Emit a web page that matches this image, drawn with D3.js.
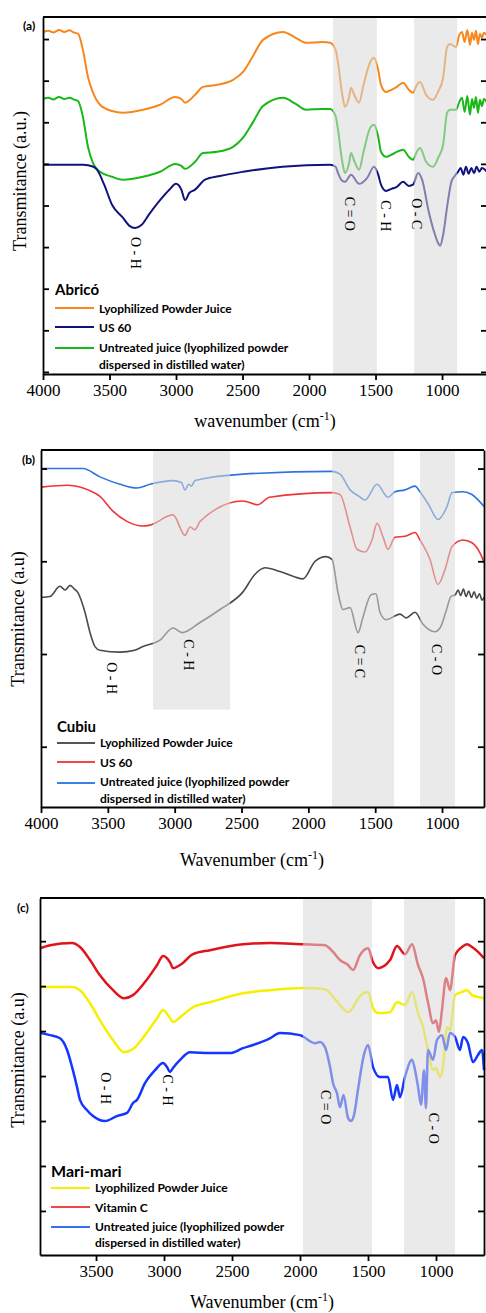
<!DOCTYPE html>
<html>
<head>
<meta charset="utf-8">
<script src="https://cdn.jsdelivr.net/npm/d3@7"></script>
<style>
  body { margin: 0; background: #fff; }
  svg { display: block; }
</style>
</head>
<body>
<svg id="chart" width="486" height="1313"></svg>
<script>
// ---- Data (wavenumber cm-1, transmittance a.u.) ----

// (a) Abricó
const abrico_powder = [[4000,8.17],[3960,8.20],[3920,8.16],[3880,8.22],[3840,8.17],[3800,8.21],[3770,8.16],[3737,8.13],[3700,7.74],[3662,7.09],[3624,6.71],[3571,6.42],[3481,6.27],[3398,6.23],[3248,6.30],[3120,6.42],[3007,6.61],[2960,6.56],[2932,6.47],[2857,6.66],[2797,6.85],[2692,6.90],[2571,7.02],[2496,7.21],[2420,7.60],[2346,7.98],[2195,8.17],[2100,8.03],[2022,7.91],[1900,7.93],[1842,7.91],[1800,7.74],[1782,7.43],[1750,6.66],[1729,6.37],[1700,6.59],[1684,6.83],[1660,6.66],[1624,6.47],[1590,6.90],[1540,7.45],[1511,7.55],[1480,7.26],[1459,6.90],[1421,6.73],[1380,6.78],[1340,6.85],[1293,6.95],[1250,6.78],[1218,6.71],[1190,6.90],[1165,6.97],[1120,6.66],[1068,6.54],[1030,6.73],[992,7.07],[962,7.81],[940,7.88],[895,7.81],[870,8.10],[850,8.17],[830,7.93],[810,8.22],[790,7.86],[775,8.15],[760,7.98],[745,8.20],[730,7.88],[715,8.13],[700,8.03],[685,8.15],[662,8.08]];
const abrico_us60 = [[4000,4.98],[3800,4.98],[3700,4.98],[3620,4.93],[3594,4.86],[3540,4.50],[3480,4.01],[3398,3.70],[3350,3.51],[3308,3.46],[3260,3.53],[3200,3.80],[3120,4.13],[3050,4.38],[3000,4.52],[2960,4.38],[2932,4.13],[2900,4.30],[2857,4.38],[2782,4.62],[2669,4.71],[2496,4.81],[2200,4.93],[1842,4.98],[1800,4.93],[1782,4.78],[1750,4.59],[1729,4.57],[1684,4.74],[1624,4.52],[1564,4.66],[1511,4.93],[1480,4.74],[1459,4.50],[1421,4.35],[1380,4.40],[1340,4.45],[1293,4.57],[1250,4.47],[1218,4.50],[1180,4.78],[1150,4.62],[1100,3.85],[1060,3.37],[1030,3.10],[1015,3.03],[992,3.29],[960,4.01],[930,4.57],[905,4.71],[880,4.81],[860,4.90],[840,4.74],[820,4.93],[800,4.76],[780,4.90],[760,4.78],[740,4.93],[720,4.81],[700,4.90],[662,4.81]];
const abrico_untreated = [[4000,6.56],[3960,6.59],[3920,6.55],[3880,6.61],[3840,6.56],[3800,6.59],[3770,6.55],[3737,6.51],[3700,6.13],[3662,5.41],[3624,5.02],[3571,4.81],[3481,4.69],[3398,4.62],[3248,4.69],[3120,4.81],[3007,5.00],[2960,4.95],[2932,4.88],[2857,5.05],[2797,5.26],[2692,5.29],[2571,5.41],[2496,5.63],[2420,6.01],[2346,6.39],[2195,6.59],[2100,6.44],[2022,6.30],[1900,6.32],[1842,6.32],[1800,6.15],[1782,5.82],[1750,5.05],[1729,4.78],[1700,5.00],[1684,5.26],[1660,5.07],[1624,4.86],[1590,5.29],[1540,5.87],[1511,5.94],[1480,5.65],[1459,5.29],[1421,5.17],[1380,5.22],[1340,5.29],[1293,5.34],[1250,5.17],[1218,5.10],[1190,5.29],[1165,5.38],[1120,5.05],[1068,4.93],[1030,5.14],[992,5.46],[962,6.23],[940,6.30],[895,6.30],[870,6.49],[850,6.59],[830,6.25],[810,6.63],[790,6.18],[775,6.56],[760,6.35],[745,6.61],[730,6.23],[715,6.54],[700,6.39],[685,6.56],[662,6.47]];

// (b) Cubiu
const cubiu_powder = [[4000,2.61],[3933,2.62],[3858,2.73],[3820,2.69],[3783,2.74],[3750,2.70],[3723,2.66],[3671,2.45],[3633,2.23],[3596,2.08],[3559,2.04],[3409,2.02],[3300,2.04],[3237,2.08],[3110,2.15],[3012,2.28],[2945,2.23],[2810,2.34],[2661,2.48],[2489,2.67],[2399,2.86],[2324,2.93],[2212,2.89],[2100,2.83],[2040,2.81],[1950,3.00],[1868,3.05],[1823,3.02],[1778,2.66],[1741,2.48],[1688,2.50],[1628,2.23],[1591,2.40],[1531,2.64],[1494,2.65],[1464,2.45],[1419,2.37],[1314,2.43],[1269,2.39],[1202,2.45],[1142,2.32],[1053,2.24],[1015,2.28],[970,2.46],[933,2.62],[900,2.64],[880,2.69],[860,2.63],[840,2.70],[820,2.62],[800,2.68],[780,2.61],[760,2.67],[740,2.60],[720,2.65],[700,2.58],[686,2.61]];
const cubiu_us60 = [[4000,3.80],[3800,3.82],[3686,3.79],[3648,3.77],[3559,3.70],[3462,3.54],[3357,3.43],[3237,3.38],[3185,3.39],[3012,3.50],[2923,3.28],[2885,3.37],[2848,3.34],[2810,3.43],[2489,3.65],[2380,3.61],[2290,3.69],[1823,3.74],[1763,3.72],[1688,3.37],[1636,3.13],[1576,3.10],[1524,3.23],[1486,3.41],[1441,3.26],[1404,3.13],[1352,3.26],[1277,3.27],[1202,3.31],[1165,3.23],[1090,3.02],[1030,2.75],[978,2.91],[925,3.16],[843,3.23],[776,3.20],[716,3.09],[686,2.99]];
const cubiu_untreated = [[4000,4.00],[3686,4.00],[3559,3.91],[3409,3.83],[3282,3.79],[3185,3.83],[3012,3.87],[2950,3.85],[2923,3.77],[2895,3.83],[2875,3.81],[2848,3.87],[2489,3.94],[1823,3.97],[1763,3.94],[1688,3.77],[1620,3.70],[1576,3.66],[1486,3.83],[1404,3.69],[1352,3.75],[1277,3.77],[1202,3.81],[1165,3.75],[1100,3.61],[1030,3.45],[963,3.59],[925,3.74],[843,3.75],[776,3.72],[686,3.59]];

// (c) Mari-mari
const mari_powder = [[3912,5.98],[3676,5.98],[3618,5.91],[3544,5.62],[3471,5.24],[3375,4.80],[3294,4.53],[3228,4.60],[3140,4.91],[3051,5.29],[3007,5.47],[2956,5.29],[2934,5.20],[2882,5.31],[2787,5.53],[2662,5.64],[2419,5.84],[2221,5.91],[1978,5.96],[1816,5.93],[1757,5.76],[1706,5.58],[1647,5.42],[1610,5.53],[1559,5.78],[1500,5.87],[1463,5.51],[1426,5.40],[1338,5.42],[1287,5.64],[1228,5.58],[1176,5.87],[1132,5.40],[1096,5.09],[1059,4.58],[1022,4.13],[1000,4.18],[970,3.98],[949,4.20],[919,5.09],[897,5.02],[860,5.80],[809,5.87],[772,5.91],[735,5.80],[691,5.76],[647,5.73]];
const mari_vitamin_c = [[3912,6.84],[3838,6.91],[3676,6.96],[3618,6.87],[3544,6.58],[3471,6.24],[3375,5.91],[3294,5.73],[3228,5.80],[3140,6.09],[3051,6.47],[3007,6.67],[2956,6.53],[2934,6.40],[2882,6.47],[2787,6.71],[2662,6.80],[2419,6.93],[2221,6.96],[1978,6.93],[1816,6.91],[1757,6.76],[1706,6.58],[1647,6.47],[1610,6.36],[1559,6.69],[1500,6.84],[1463,6.53],[1426,6.40],[1338,6.58],[1287,6.89],[1228,6.71],[1176,6.93],[1132,6.47],[1096,6.18],[1059,5.64],[1022,5.18],[1000,5.24],[978,4.98],[956,5.47],[926,6.18],[897,5.91],[860,6.69],[809,6.87],[772,6.93],[735,6.87],[691,6.76],[647,6.62]];
const mari_untreated = [[3912,4.96],[3838,4.91],[3765,4.84],[3713,4.58],[3676,4.20],[3640,3.76],[3618,3.47],[3566,3.24],[3522,3.11],[3434,3.00],[3346,3.11],[3272,3.18],[3228,3.40],[3199,3.47],[3140,3.84],[3066,4.13],[3007,4.29],[2978,4.20],[2956,4.09],[2934,4.18],[2882,4.36],[2809,4.53],[2662,4.51],[2515,4.51],[2419,4.62],[2346,4.69],[2221,4.84],[2147,4.96],[2000,4.91],[1890,4.73],[1853,4.76],[1816,4.64],[1779,4.20],[1757,3.84],[1728,3.62],[1706,3.31],[1680,3.58],[1647,3.07],[1625,3.00],[1603,3.13],[1574,3.69],[1530,4.47],[1500,4.69],[1463,4.20],[1412,3.98],[1353,3.98],[1316,3.47],[1287,3.80],[1265,3.53],[1228,3.98],[1176,4.36],[1154,4.13],[1132,3.76],[1110,3.36],[1088,4.13],[1074,3.29],[1059,4.58],[1022,4.36],[993,4.80],[956,4.91],[926,4.58],[897,4.96],[860,4.87],[824,4.58],[801,4.87],[765,4.73],[728,4.31],[691,4.47],[662,4.58],[647,4.13]];

// axis ticks
const x_ticks_ab = [4000, 3500, 3000, 2500, 2000, 1500, 1000];
const x_ticks_c = [3500, 3000, 2500, 2000, 1500, 1000];
const y_ticks_a = [0, 1, 2, 3, 4, 5, 6, 7, 8];
const y_ticks_b = [1, 2, 3, 4];
const y_ticks_c = [1, 2, 3, 4, 5, 6, 7];

// shaded bands [from, to, lower edge (optional)]
const abrico_bands = [[1820, 1490], [1210, 887]];
const cubiu_bands = [[3162, 2586, 1.40], [1823, 1359], [1165, 903]];
const mari_bands = [[1978, 1471], [1235, 860]];

// bond labels [text, wavenumber, transmittance]
const abrico_bonds = [['O - H', 3305, 2.86], ['C = O', 1699, 3.80], ['C - H', 1428, 3.75], ['O - C', 1195, 3.80]];
const cubiu_bonds = [['O - H', 3469, 1.74], ['C - H', 2900, 1.99], ['C = C', 1614, 1.92], ['C - O', 1045, 1.94]];
const mari_bonds = [['O - H', 3434, 3.73], ['C - H', 2971, 3.69], ['C = O', 1809, 3.31], ['C - O', 1022, 2.84]];

const legend_names_ab = ['Lyophilized Powder Juice', 'US 60', 'Untreated juice (lyophilized powder', 'dispersed in distilled water)'];
const legend_names_c = ['Lyophilized Powder Juice', 'Vitamin C', 'Untreated juice (lyophilized powder', 'dispersed in distilled water)'];

const SERIF = '"Liberation Serif", "Times New Roman", serif';
const SANS = 'Lato, "Open Sans", sans-serif';

const svg = d3.select('#chart');

function draw_panel(cfg) {
    const g = svg.append('g');
    const x = d3.scaleLinear().domain(cfg.x_domain).range([cfg.left, cfg.right]);
    const y = d3.scaleLinear().domain(cfg.y_domain).range([cfg.bottom, cfg.top]);
    const line = d3.line().x(d => x(d[0])).y(d => y(d[1])).curve(d3.curveMonotoneX);

    // spectra
    cfg.series.forEach(s => {
        g.append('path').datum(s.values)
            .attr('d', line)
            .attr('fill', 'none')
            .attr('stroke', s.color)
            .attr('stroke-width', cfg.line_width)
            .attr('stroke-linejoin', 'round');
    });

    // grey bands sit over the curves, so lines inside look washed out
    g.selectAll('rect.band').data(cfg.bands).join('rect')
        .attr('class', 'band')
        .attr('x', d => x(d[0]))
        .attr('width', d => x(d[1]) - x(d[0]))
        .attr('y', cfg.top)
        .attr('height', d => y(d[2] ?? cfg.y_domain[0]) - cfg.top)
        .attr('fill', '#d9d9d9')
        .attr('opacity', 0.55);

    // bond labels
    g.selectAll('text.bond').data(cfg.bonds).join('text')
        .attr('class', 'bond')
        .attr('transform', d => `translate(${x(d[1])},${y(d[2])}) rotate(90)`)
        .attr('text-anchor', 'middle')
        .attr('dominant-baseline', 'central')
        .style('font-family', SERIF)
        .style('font-size', '14px')
        .text(d => d[0]);

    // axes
    const bottom_axis = d3.axisBottom(x).tickValues(cfg.x_ticks).tickSize(6).tickSizeOuter(0).tickPadding(4).tickFormat(d3.format('d'));
    const ax = g.append('g').attr('transform', `translate(0,${cfg.bottom})`).call(bottom_axis);
    ax.selectAll('text').style('font-family', SERIF).style('font-size', '17px').attr('fill', '#000');

    const left_axis = d3.axisLeft(y).tickValues(cfg.y_ticks).tickSize(-6).tickSizeOuter(0).tickFormat('');
    g.append('g').attr('transform', `translate(${cfg.left},0)`).call(left_axis);

    const right_axis = d3.axisRight(y).tickValues(cfg.y_ticks).tickSize(-6).tickSizeOuter(0).tickFormat('');
    g.append('g').attr('transform', `translate(${cfg.right},0)`).call(right_axis);

    g.selectAll('.domain, .tick line').attr('stroke', '#000').attr('stroke-width', 1.8);

    g.append('line')
        .attr('x1', cfg.left).attr('x2', cfg.right)
        .attr('y1', cfg.top).attr('y2', cfg.top)
        .attr('stroke', '#000').attr('stroke-width', 1.8);

    // axis titles
    const xt = g.append('text')
        .attr('x', cfg.x_title_pos[0]).attr('y', cfg.x_title_pos[1])
        .attr('text-anchor', 'middle')
        .style('font-family', SERIF).style('font-size', '18px');
    xt.append('tspan').text(cfg.x_title + ' (cm');
    xt.append('tspan').attr('dy', -7).style('font-size', '12px').text('-1');
    xt.append('tspan').attr('dy', 7).text(')');

    g.append('text')
        .attr('transform', `translate(${cfg.y_title_pos[0]},${cfg.y_title_pos[1]}) rotate(-90)`)
        .attr('text-anchor', 'middle')
        .attr('dominant-baseline', 'central')
        .style('font-family', SERIF).style('font-size', '18px')
        .text(cfg.y_title);

    // panel letter
    g.append('text')
        .attr('x', cfg.letter_pos[0]).attr('y', cfg.letter_pos[1])
        .attr('dominant-baseline', 'central')
        .style('font-family', SANS).style('font-weight', 'bold').style('font-size', '12px')
        .text(cfg.letter);

    // legend
    const lg = cfg.legend;
    g.append('text')
        .attr('x', lg.x).attr('y', lg.title_y)
        .attr('dominant-baseline', 'central')
        .style('font-family', SANS).style('font-weight', 'bold').style('font-size', lg.title_size)
        .text(lg.title);
    lg.colors.forEach((c, i) => {
        g.append('line')
            .attr('x1', lg.x).attr('x2', lg.x + lg.line_len)
            .attr('y1', lg.rows[i]).attr('y2', lg.rows[i])
            .attr('stroke', c).attr('stroke-width', 2.2);
    });
    lg.names.forEach((n, i) => {
        g.append('text')
            .attr('x', lg.x + lg.line_len + 5).attr('y', lg.text_rows[i])
            .attr('dominant-baseline', 'central')
            .style('font-family', SANS).style('font-weight', 'bold').style('font-size', '12px')
            .text(n);
    });
}

draw_panel({
    left: 43, right: 487, top: 17, bottom: 374,
    x_domain: [4000, 662], y_domain: [-0.05, 8.53],
    x_ticks: x_ticks_ab, y_ticks: y_ticks_a,
    line_width: 2,
    series: [
        {values: abrico_powder, color: '#f7871c'},
        {values: abrico_untreated, color: '#17b817'},
        {values: abrico_us60, color: '#12127e'}
    ],
    bands: abrico_bands, bonds: abrico_bonds,
    x_title: 'wavenumber', x_title_pos: [265, 427],
    y_title: 'Transmitance (a.u.)', y_title_pos: [20, 181],
    letter: '(a)', letter_pos: [23, 25],
    legend: {
        x: 55, line_len: 39, title: 'Abricó', title_y: 289, title_size: '15px',
        colors: ['#f7871c', '#12127e', '#17b817'],
        rows: [308, 327, 348], names: legend_names_ab, text_rows: [308, 327, 347, 364]
    }
});

draw_panel({
    left: 41, right: 484, top: 450, bottom: 807,
    x_domain: [4000, 686], y_domain: [0.35, 4.2],
    x_ticks: x_ticks_ab, y_ticks: y_ticks_b,
    line_width: 1.6,
    series: [
        {values: cubiu_powder, color: '#4a4a4a'},
        {values: cubiu_us60, color: '#ee3636'},
        {values: cubiu_untreated, color: '#2f74de'}
    ],
    bands: cubiu_bands, bonds: cubiu_bonds,
    x_title: 'Wavenumber', x_title_pos: [252, 866],
    y_title: 'Transmitance (a.u)', y_title_pos: [18, 619],
    letter: '(b)', letter_pos: [22, 459],
    legend: {
        x: 57, line_len: 38, title: 'Cubiu', title_y: 726, title_size: '15px',
        colors: ['#555555', '#f04848', '#3a80e8'],
        rows: [743, 762, 783], names: legend_names_ab, text_rows: [742, 762, 781, 798]
    }
});

draw_panel({
    left: 40, right: 484, top: 898, bottom: 1255,
    x_domain: [3912, 647], y_domain: [0.02, 7.96],
    x_ticks: x_ticks_c, y_ticks: y_ticks_c,
    line_width: 2.5,
    series: [
        {values: mari_vitamin_c, color: '#e0141c'},
        {values: mari_powder, color: '#f6f000'},
        {values: mari_untreated, color: '#1536ff'}
    ],
    bands: mari_bands, bonds: mari_bonds,
    x_title: 'Wavenumber', x_title_pos: [262, 1308],
    y_title: 'Transmitance (a.u)', y_title_pos: [18, 1060],
    letter: '(c)', letter_pos: [17, 907],
    legend: {
        x: 51, line_len: 39, title: 'Mari-mari', title_y: 1170, title_size: '16px',
        colors: ['#f6f000', '#ee4848', '#3470ee'],
        rows: [1188, 1207, 1227], names: legend_names_c, text_rows: [1187, 1207, 1226, 1242]
    }
});
</script>
</body>
</html>
